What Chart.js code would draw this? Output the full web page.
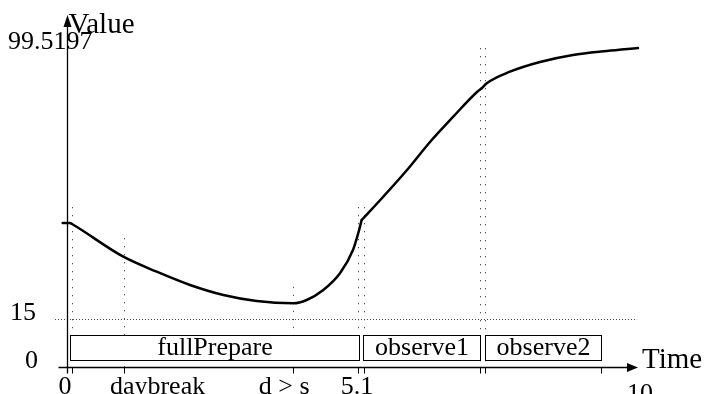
<!DOCTYPE html>
<html>
<head>
<meta charset="utf-8">
<script src="https://cdn.jsdelivr.net/npm/chart.js@4"></script>
<style>
html,body{margin:0;padding:0;background:#fff;}
canvas{display:block;}
</style>
</head>
<body>
<canvas id="c" width="707" height="394"></canvas>
<script>
// ---- data ----
const times  = [-0.075, 0.052, 0.087, 0.983, 1.565, 2.147, 2.729, 3.31, 3.949, 4.183, 4.473, 4.764, 4.991, 5.084, 5.143, 5.515, 5.934, 6.335, 6.736, 7.155, 7.237, 7.325, 7.731, 8.255, 8.831, 9.424, 9.965];
const values = [44.93, 44.93, 44.6, 34.41, 29.73, 25.58, 22.46, 20.59, 19.87, 20.9, 24.02, 29.23, 36.5, 41.81, 45.86, 53.04, 61.46, 70.2, 78.0, 85.8, 86.95, 88.51, 92.13, 95.16, 97.34, 98.59, 99.52];
// times where the curve has a corner (phase switches)
const cornerTimes = [5.143, 7.237];

const xTickTimes = [0.087, 0.995, 3.944, 5.079, 5.183, 7.208, 7.295, 9.32];
const xTickLabels = ['0', 'daybreak', 'd > s', '5.1', '10'];
const xTickLabelTimes = [-0.035, 1.58, 3.79, 5.06, 10];

const yTickLabels = ['0', '15', '99.5197'];
const yTickValues = [0, 15, 99.5197];

const phaseNames = ['fullPrepare', 'observe1', 'observe2'];
const phaseStart = [0.052, 5.166, 7.295];
const phaseEnd   = [5.096, 7.208, 9.32];
const phaseLow = 2.2, phaseHigh = 10.0, phaseMid = 6.1;

const markerTimes = [0.087, 0.995, 3.944, 5.079, 5.183, 7.208, 7.295];
const markerTops  = [49.9, 40.2, 25.0, 49.9, 49.9, 99.5, 99.5];
const refLevel = 15;
const refFrom = -0.21, refTo = 9.95;

const xTitle = 'Time', yTitle = 'Value';

// ---- drawing ----
const FONT = '"Liberation Serif", "Times New Roman", serif';

// split series into smooth pieces at the corners
const pieces = [];
let cur = [];
times.forEach((t, i) => {
  cur.push({ x: t, y: values[i] });
  if (cornerTimes.includes(t)) { pieces.push(cur); cur = [{ x: t, y: values[i] }]; }
});
pieces.push(cur);

const deco = {
  id: 'deco',
  beforeDatasetsDraw(chart) {
    const ctx = chart.ctx, xs = chart.scales.x, ys = chart.scales.y;
    ctx.save();
    ctx.strokeStyle = '#444';
    ctx.lineWidth = 1;
    ctx.setLineDash([1.2, 6.8]);
    markerTimes.forEach((t, i) => {
      const px = Math.round(xs.getPixelForValue(t)) + 0.5;
      ctx.beginPath();
      ctx.moveTo(px, ys.getPixelForValue(markerTops[i]));
      ctx.lineTo(px, ys.getPixelForValue(0));
      ctx.stroke();
    });
    ctx.setLineDash([1, 2]);
    const py = Math.round(ys.getPixelForValue(refLevel)) + 0.5;
    ctx.beginPath();
    ctx.moveTo(xs.getPixelForValue(refFrom), py);
    ctx.lineTo(xs.getPixelForValue(refTo), py);
    ctx.stroke();
    ctx.setLineDash([]);
    ctx.strokeStyle = '#000';
    ctx.fillStyle = '#fff';
    ctx.lineWidth = 1;
    ctx.font = '26px ' + FONT;
    ctx.textAlign = 'center';
    ctx.textBaseline = 'middle';
    phaseNames.forEach((name, i) => {
      const x0 = Math.round(xs.getPixelForValue(phaseStart[i])) + 0.5;
      const x1 = Math.round(xs.getPixelForValue(phaseEnd[i])) + 0.5;
      const y0 = Math.round(ys.getPixelForValue(phaseHigh)) + 0.5;
      const y1 = Math.round(ys.getPixelForValue(phaseLow)) + 0.5;
      ctx.fillRect(x0, y0, x1 - x0, y1 - y0);
      ctx.strokeRect(x0, y0, x1 - x0, y1 - y0);
      ctx.fillStyle = '#000';
      ctx.fillText(name, (x0 + x1) / 2, ys.getPixelForValue(phaseMid) + 1);
      ctx.fillStyle = '#fff';
    });
    ctx.restore();
  },
  afterDraw(chart) {
    const ctx = chart.ctx, xs = chart.scales.x, ys = chart.scales.y;
    ctx.save();
    const ox = Math.round(xs.getPixelForValue(0)) + 0.5;
    const oy = Math.round(ys.getPixelForValue(0)) + 0.5;
    ctx.strokeStyle = '#000';
    ctx.fillStyle = '#000';
    ctx.lineWidth = 1.3;
    ctx.beginPath();
    ctx.moveTo(ox, oy + 6);
    ctx.lineTo(ox, 26);
    ctx.stroke();
    ctx.beginPath();
    ctx.moveTo(ox, 15); ctx.lineTo(ox - 4, 27); ctx.lineTo(ox + 4, 27); ctx.closePath();
    ctx.fill();
    const xEnd = xs.getPixelForValue(10) - 2;
    ctx.beginPath();
    ctx.moveTo(ox - 9, oy);
    ctx.lineTo(xEnd - 9, oy);
    ctx.stroke();
    ctx.beginPath();
    ctx.moveTo(xEnd, oy); ctx.lineTo(xEnd - 11, oy - 4.5); ctx.lineTo(xEnd - 11, oy + 4.5); ctx.closePath();
    ctx.fill();
    ctx.lineWidth = 1;
    xTickTimes.forEach(t => {
      const px = Math.round(xs.getPixelForValue(t)) + 0.5;
      ctx.beginPath();
      ctx.moveTo(px, oy);
      ctx.lineTo(px, oy + 6);
      ctx.stroke();
    });
    ctx.font = '26px ' + FONT;
    ctx.textAlign = 'center';
    ctx.textBaseline = 'alphabetic';
    xTickLabels.forEach((lab, i) => {
      const yb = (i === xTickLabels.length - 1) ? 401 : 394;
      ctx.fillText(lab, xs.getPixelForValue(xTickLabelTimes[i]), yb);
    });
    const yLabelLeft = [25, 10, 8];
    ctx.textAlign = 'left';
    yTickLabels.forEach((lab, i) => {
      ctx.fillText(lab, yLabelLeft[i], ys.getPixelForValue(yTickValues[i]) + 1);
    });
    ctx.font = '29px ' + FONT;
    ctx.fillText(yTitle, ox + 1, 33);
    ctx.fillText(xTitle, xEnd + 4, oy);
    ctx.restore();
  }
};

new Chart(document.getElementById('c'), {
  type: 'line',
  data: {
    datasets: pieces.map(p => ({
      data: p,
      borderColor: '#000',
      borderWidth: 2.5,
      borderJoinStyle: 'round',
      borderCapStyle: 'round',
      pointRadius: 0,
      fill: false,
      cubicInterpolationMode: 'monotone',
      clip: false
    }))
  },
  options: {
    responsive: false,
    animation: false,
    events: [],
    layout: { padding: { left: 67, right: 67, top: 48, bottom: 27 } },
    scales: {
      x: { type: 'linear', min: 0, max: 10, display: false },
      y: { type: 'linear', min: 0, max: 99.5197, display: false }
    },
    plugins: { legend: { display: false }, tooltip: { enabled: false } }
  },
  plugins: [deco]
});
</script>
</body>
</html>
